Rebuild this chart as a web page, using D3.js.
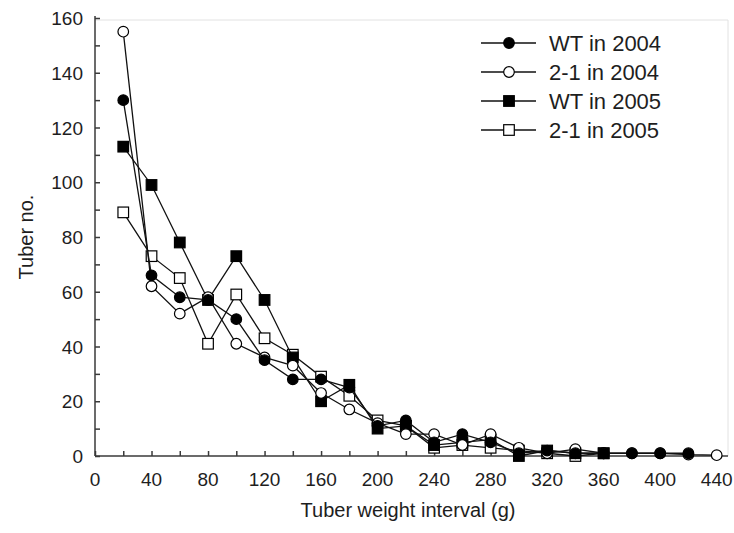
<!DOCTYPE html>
<html>
<head>
<meta charset="utf-8">
<script src="https://cdn.jsdelivr.net/npm/d3@7"></script>
<style>
  body { margin: 0; background: #fff; }
  text { font-family: "Liberation Sans", Arial, sans-serif; fill: #1e1e1e; }
</style>
</head>
<body>
<div class="container"></div>
<script>
// tuber weight interval (g)
let intervals = [20, 40, 60, 80, 100, 120, 140, 160, 180, 200, 220, 240, 260, 280, 300, 320, 340, 360, 380, 400, 420, 440];

let wt2004  = [130, 66, 58, 57, 50, 35, 28, 28, 25, 11, 13, 5, 8, 5, 1, 2, 1, 1, 1, 1, 1];
let c21y2004 = [155, 62, 52, 58, 41, 36, 33, 23, 17, 12, 8, 8, 4, 8, 3, 1, 2.5, 1, 1, 1, 0.5, 0.3];
let wt2005  = [113, 99, 78, 57, 73, 57, 36, 20, 26, 10, 11, 4, 5, 6, 0, 2, 1, 1];
let c21y2005 = [89, 73, 65, 41, 59, 43, 37, 29, 22, 13, 11, 3, 4, 3, 2, 1, 0, 1];

let seriesNames = ["WT in 2004", "2-1 in 2004", "WT in 2005", "2-1 in 2005"];
let seriesValues = [wt2004, c21y2004, wt2005, c21y2005];
let seriesShape = ["circle", "circle", "square", "square"];
let seriesFill = ["#000", "#fff", "#000", "#fff"];

let xTicks = d3.range(0, 441, 40);
let yTicks = d3.range(0, 161, 20);

let width = 734, height = 533;

let svg = d3.select(".container").append("svg")
    .attr("width", width)
    .attr("height", height);

let x = d3.scaleLinear().domain([0, 448]).range([95, 728]);
let y = d3.scaleLinear().domain([0, 160]).range([456, 18]);

// faint frame top/right
svg.append("path")
  .attr("d", `M95,20 H728 V456`)
  .attr("fill", "none")
  .attr("stroke", "#e2e2e2")
  .attr("stroke-width", 1);

let xAxis = svg.append("g")
  .attr("transform", "translate(0,456)")
  .call(d3.axisBottom(x).tickValues(d3.range(0, 441, 20)).tickSize(-5).tickFormat(""));
xAxis.select(".domain").attr("d", "M95,0H728");

svg.append("g").selectAll("text")
  .data(xTicks)
  .enter().append("text")
    .attr("x", d => x(d))
    .attr("y", 486)
    .attr("text-anchor", "middle")
    .style("font-size", "19px")
    .text(d => d);

let yAxis = svg.append("g")
  .attr("transform", "translate(95,0)")
  .call(d3.axisLeft(y).tickValues(d3.range(0, 161, 10)).tickSize(-5).tickFormat(""));
yAxis.select(".domain").attr("d", "M0,456V16");

svg.selectAll(".domain, .tick line")
  .attr("stroke", "#3a3a3a")
  .attr("stroke-width", 1.5);

svg.append("g").selectAll("text")
  .data(yTicks)
  .enter().append("text")
    .attr("x", 83)
    .attr("y", d => y(d) + 7)
    .attr("text-anchor", "end")
    .style("font-size", "19px")
    .text(d => d);

svg.append("text")
  .attr("x", 408)
  .attr("y", 517)
  .attr("text-anchor", "middle")
  .style("font-size", "20px")
  .text("Tuber weight interval (g)");

svg.append("text")
  .attr("transform", "translate(33,237) rotate(-90)")
  .attr("text-anchor", "middle")
  .style("font-size", "20px")
  .text("Tuber no.");

let line = d3.line()
  .x((d, i) => x(intervals[i]))
  .y(d => y(d));

let drawMarker = (g, shape, fill) => {
  if (shape == "circle") {
    g.append("circle").attr("r", 5.3);
  } else {
    g.append("rect").attr("x", -5.3).attr("y", -5.3).attr("width", 10.6).attr("height", 10.6);
  }
  g.selectAll("circle, rect")
    .attr("fill", fill)
    .attr("stroke", "#000")
    .attr("stroke-width", 1.2);
}

// draw later series first so WT 2004 sits on top like the original
for (let s = seriesValues.length - 1; s >= 0; s--) {
  let vals = seriesValues[s];
  let g = svg.append("g");
  g.append("path")
    .datum(vals)
    .attr("d", line)
    .attr("fill", "none")
    .attr("stroke", "#111")
    .attr("stroke-width", 1.3);
  vals.forEach((v, i) => {
    let m = g.append("g").attr("transform", `translate(${x(intervals[i])},${y(v)})`);
    drawMarker(m, seriesShape[s], seriesFill[s]);
  });
}

// legend
let legend = svg.append("g");
seriesNames.forEach((name, i) => {
  let ly = 43 + i * 29;
  legend.append("line")
    .attr("x1", 481).attr("x2", 536)
    .attr("y1", ly).attr("y2", ly)
    .attr("stroke", "#111")
    .attr("stroke-width", 1.3);
  let m = legend.append("g").attr("transform", `translate(509,${ly})`);
  drawMarker(m, seriesShape[i], seriesFill[i]);
  legend.append("text")
    .attr("x", 549)
    .attr("y", ly + 8)
    .style("font-size", "22px")
    .text(name);
});
</script>
</body>
</html>
